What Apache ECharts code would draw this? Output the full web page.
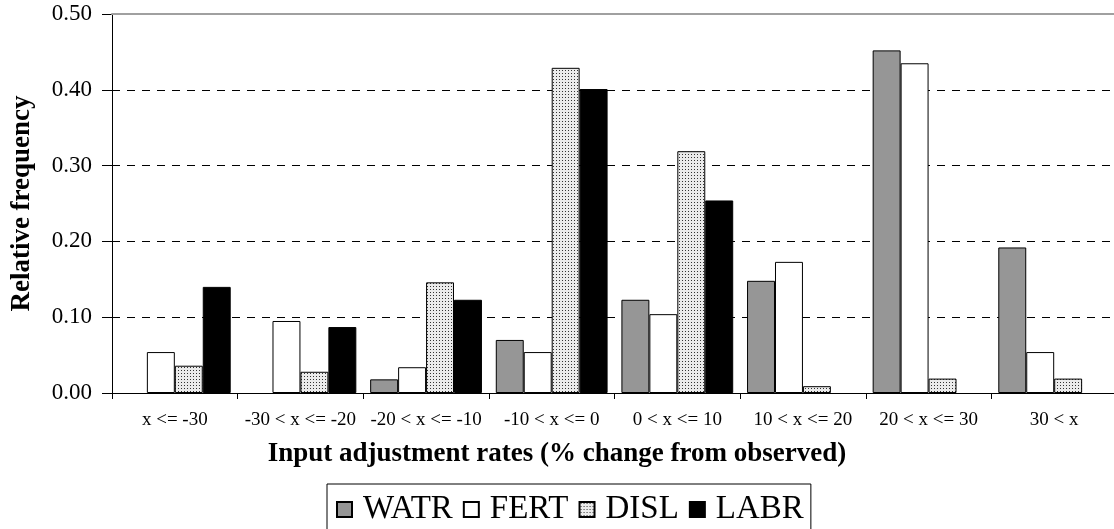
<!DOCTYPE html>
<html>
<head>
<meta charset="utf-8">
<script src="https://cdn.jsdelivr.net/npm/echarts@6/dist/echarts.min.js"></script>
<style>html,body{margin:0;padding:0;background:#fff}#c{width:1114px;height:529px}</style>
</head>
<body>
<div id="c"></div>
<script>
const categories = ['x <= -30', '-30 < x <= -20', '-20 < x <= -10', '-10 < x <= 0', '0 < x <= 10', '10 < x <= 20', '20 < x <= 30', '30 < x'];
const watr = [0, 0, 0.018, 0.070, 0.123, 0.148, 0.452, 0.192];
const fert = [0.054, 0.095, 0.034, 0.054, 0.104, 0.173, 0.435, 0.054];
const disl = [0.036, 0.028, 0.146, 0.429, 0.319, 0.009, 0.019, 0.019];
const labr = [0.140, 0.087, 0.123, 0.401, 0.254, 0, 0, 0];
const yTicks = [0, 0.1, 0.2, 0.3, 0.4, 0.5];

const FONT = '"Liberation Serif", "Times New Roman", serif';

const pc = document.createElement('canvas');
pc.width = 3; pc.height = 3;
const px = pc.getContext('2d');
px.fillStyle = '#ebebeb'; px.fillRect(0, 0, 3, 3);
px.fillStyle = '#333'; px.fillRect(1, 1, 1, 1);
const dotted = { image: pc, repeat: 'repeat' };

const chart = echarts.init(document.getElementById('c'), null, { renderer: 'canvas' });
const mk = (name, data, color) => ({
  name, type: 'bar',
  data: data.map(v => (v === 0 ? null : v)),
  barGap: '0%', barCategoryGap: '11%',
  itemStyle: { color, borderColor: '#000', borderWidth: 1 },
  emphasis: { disabled: true }
});
chart.setOption({
  animation: false,
  backgroundColor: '#fff',
  title: {
    text: 'Input adjustment rates (% change from observed)',
    left: 'center', top: 436,
    textStyle: { fontFamily: FONT, fontSize: 27, fontWeight: 'bold', color: '#000' }
  },
  legend: {
    left: 327, top: 484,
    icon: 'rect',
    itemWidth: 15, itemHeight: 15, itemGap: 10,
    borderColor: '#000', borderWidth: 1,
    padding: [9, 7, 9, 9],
    textStyle: { fontFamily: FONT, fontSize: 33, color: '#000', padding: [0, 0, 0, 6] },
    data: ['WATR', 'FERT', 'DISL', 'LABR']
  },
  grid: {
    left: 112, top: 14, right: -3, bottom: 136,
    outerBoundsMode: 'none', containLabel: false
  },
  xAxis: [{
    type: 'category', data: categories,
    axisLine: { lineStyle: { color: '#000', width: 1 } },
    axisTick: { show: true, length: 6, lineStyle: { color: '#000' } },
    axisLabel: { fontFamily: FONT, fontSize: 19, color: '#000', margin: 18, interval: 0 }
  }, {
    type: 'category', data: categories, position: 'top', z: 5,
    axisLine: { show: true, lineStyle: { color: '#a0a0a0', width: 2 } },
    axisTick: { show: false }, axisLabel: { show: false }, splitLine: { show: false }
  }],
  yAxis: {
    type: 'value', min: 0, max: 0.5, interval: 0.1,
    name: 'Relative frequency', nameLocation: 'middle', nameRotate: 90, nameGap: 76,
    nameTextStyle: { fontFamily: FONT, fontSize: 27, fontWeight: 'bold', color: '#000' },
    axisLine: { show: true, lineStyle: { color: '#000', width: 1 } },
    axisTick: { show: true, length: 10, lineStyle: { color: '#000' } },
    axisLabel: { fontFamily: FONT, fontSize: 23, color: '#000', margin: 20,
      formatter: v => yTicks.includes(Math.round(v * 10) / 10) ? v.toFixed(2) : '' },
    splitLine: { show: true, lineStyle: { color: '#000', type: [8, 7], width: 1 } }
  },
  series: [
    mk('WATR', watr, '#969696'),
    mk('FERT', fert, '#ffffff'),
    mk('DISL', disl, dotted),
    mk('LABR', labr, '#000000')
  ]
});
</script>
</body>
</html>
